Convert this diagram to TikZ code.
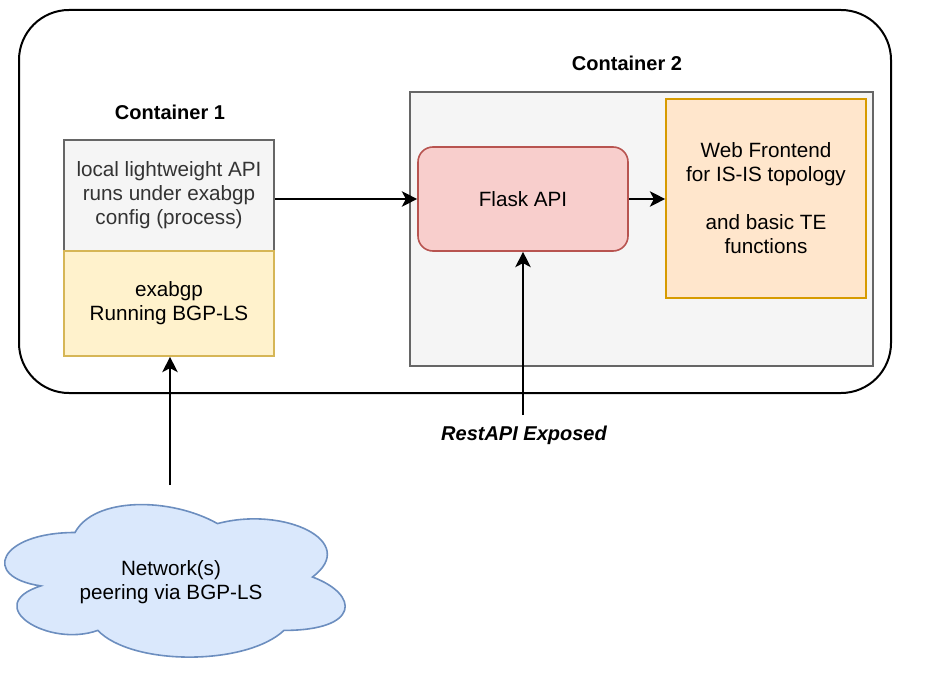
\documentclass[tikz,border=0pt]{standalone}
\usepackage{fontspec}
\setmainfont{Liberation Sans}
\usetikzlibrary{arrows.meta}
\definecolor{grayfill}{HTML}{F5F5F5}
\definecolor{graydraw}{HTML}{666666}
\definecolor{graytext}{HTML}{333333}
\definecolor{yelfill}{HTML}{FFF2CC}
\definecolor{yeldraw}{HTML}{D6B656}
\definecolor{redfill}{HTML}{F8CECC}
\definecolor{reddraw}{HTML}{B85450}
\definecolor{orfill}{HTML}{FFE6CC}
\definecolor{ordraw}{HTML}{D79B00}
\definecolor{bluefill}{HTML}{DAE8FC}
\definecolor{bluedraw}{HTML}{6C8EBF}
\tikzset{
  txt/.style={font=\fontsize{15.5}{18}\selectfont, align=center},
  boxbase/.style={txt, draw, line width=1.2pt, inner sep=0pt},
  conn/.style={line width=1.5pt, -{Stealth[length=11.5pt,width=11.5pt,inset=3pt]}},
  lbl/.style={font=\fontsize{15}{18}\selectfont\bfseries},
}
\begin{document}
\begin{tikzpicture}[x=0.75pt,y=-0.75pt]
\useasboundingbox (0,0) rectangle (948,691);
% outer container
\node[draw, line width=1.5pt, rounded corners=37.5pt, minimum width=654pt, minimum height=287.25pt, inner sep=0pt] (outer) at (455,201.5) {};
% container 2
\node[boxbase, fill=grayfill, draw=graydraw, minimum width=347.25pt, minimum height=205.5pt] (c2) at (641.5,229) {};
% labels
\node[lbl] (lab1) at (170,112) {Container 1};
\node[lbl] (lab2) at (627,63) {Container 2};
% container 1 boxes
\node[boxbase, fill=grayfill, draw=graydraw, text=graytext, minimum width=157.5pt, minimum height=83.25pt] (api) at (169,195.5) {\raisebox{-3pt}{\begin{tabular}{@{}c@{}}local lightweight API\\runs under exabgp\\config (process)\end{tabular}}};
\node[boxbase, fill=yelfill, draw=yeldraw, minimum width=157.5pt, minimum height=78.75pt] (exa) at (169,303.5) {exabgp\\Running BGP-LS};
% flask
\node[boxbase, fill=redfill, draw=reddraw, rounded corners=11.25pt, minimum width=157.5pt, minimum height=78pt] (flask) at (523,199) {Flask API};
% web frontend
\node[boxbase, fill=orfill, draw=ordraw, minimum width=150pt, minimum height=149.25pt] (web) at (766,198.5) {Web Frontend\\for IS-IS topology\\[18pt]and basic TE\\functions};
% cloud
\draw[fill=bluefill, draw=bluedraw, line width=1.2pt]
  (75,532.5) .. controls (-1,532.5) and (-20,577) .. (40.8,585.9)
  .. controls (-20,605.5) and (48.4,648.2) .. (97.8,630.4)
  .. controls (132,666) and (246,666) .. (284,630.4)
  .. controls (360,630.4) and (360,594.8) .. (312.5,577)
  .. controls (360,541.4) and (284,505.8) .. (217.5,523.6)
  .. controls (170,496.9) and (94,496.9) .. (75,532.5) -- cycle;
\node[txt] (net) at (171,582) {Network(s)\\peering via BGP-LS};
% connectors
\draw[conn] (api.east |- flask.west) -- (flask.west);
\draw[conn] (flask.east) -- (web.west |- flask.east);
\coordinate (rest) at (523,415);
\draw[conn] (rest) -- (flask.south);
\node[lbl, font=\fontsize{15}{18}\selectfont\bfseries\itshape] (restlbl) at (524,435) {RestAPI Exposed};
\coordinate (cl) at (170,485);
\draw[conn] (cl) -- (cl |- exa.south);
\end{tikzpicture}
\end{document}
